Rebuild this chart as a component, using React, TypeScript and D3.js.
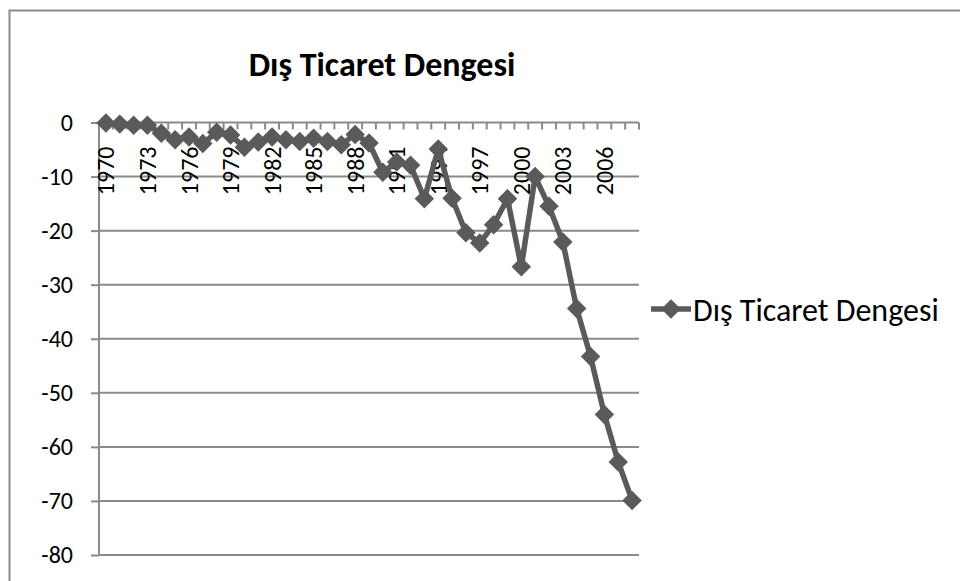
import { useEffect, useRef } from 'react';
import * as d3 from 'd3';

// Dış ticaret dengesi (milyar $), 1970-2008
const years: number[] = d3.range(1970, 2009);
const balance: number[] = [
  -0.1, -0.3, -0.5, -0.5, -2.0, -3.2, -2.7, -3.9, -1.8, -2.3,
  -4.6, -3.6, -2.7, -3.2, -3.5, -2.9, -3.5, -4.1, -2.2, -3.8,
  -9.2, -7.3, -7.9, -14.1, -4.9, -14.0, -20.4, -22.3, -18.9, -14.1,
  -26.7, -10.0, -15.5, -22.1, -34.4, -43.3, -54.0, -62.8, -69.9,
];
const yTicks: number[] = [0, -10, -20, -30, -40, -50, -60, -70, -80];
const title = 'Dış Ticaret Dengesi';
const seriesName = 'Dış Ticaret Dengesi';

const W = 960;
const H = 581;
const FONT = "Carlito, Calibri, Lato, 'Open Sans', sans-serif";
const GRID = '#8a8a8a';
const SERIES = '#5a5a5a';

export default function App() {
  const svgRef = useRef<SVGSVGElement | null>(null);

  useEffect(() => {
    if (!svgRef.current) return;
    const svg = d3.select(svgRef.current);
    svg.selectAll('*').remove();

    const plot = { left: 99, right: 639, top: 122.5, bottom: 555 };

    const x = d3.scaleBand<number>()
      .domain(years)
      .range([plot.left, plot.right]);
    const y = d3.scaleLinear().domain([-80, 0]).range([plot.bottom, plot.top]);

    // outer frame (right & bottom edges fall outside the view)
    svg.append('rect')
      .attr('x', 9.5).attr('y', 10.5)
      .attr('width', 1200).attr('height', 1200)
      .attr('fill', 'none').attr('stroke', GRID).attr('stroke-width', 2);

    svg.append('text')
      .attr('x', 382).attr('y', 76)
      .attr('text-anchor', 'middle')
      .attr('font-family', FONT).attr('font-weight', 'bold').attr('font-size', 34)
      .text(title);

    // y axis ticks + labels (plain hyphen like Excel)
    const yAxis = svg.append('g').attr('transform', `translate(${plot.left},0)`)
      .call(d3.axisLeft(y).tickValues(yTicks).tickSize(8).tickPadding(18).tickFormat((d) => String(d)));
    yAxis.select('.domain').remove();
    yAxis.selectAll('line').attr('stroke', GRID).attr('stroke-width', 2);
    yAxis.selectAll('text')
      .attr('fill', '#000').attr('font-family', FONT).attr('font-size', 24);

    // grid lines
    svg.append('g')
      .selectAll('line')
      .data(yTicks)
      .join('line')
      .attr('x1', plot.left).attr('x2', plot.right)
      .attr('y1', (d) => y(d)).attr('y2', (d) => y(d))
      .attr('stroke', GRID).attr('stroke-width', 2);

    svg.append('line')
      .attr('x1', plot.left).attr('x2', plot.left)
      .attr('y1', plot.top).attr('y2', plot.bottom)
      .attr('stroke', GRID).attr('stroke-width', 2);

    // category axis at zero, ticks between categories
    const bounds = years.map((yr) => x(yr)!).concat([plot.right]);
    svg.append('g')
      .selectAll('line')
      .data(bounds)
      .join('line')
      .attr('x1', (d) => d).attr('x2', (d) => d)
      .attr('y1', y(0)).attr('y2', y(0) + 7)
      .attr('stroke', GRID).attr('stroke-width', 2);

    svg.append('g')
      .selectAll('text')
      .data(years.filter((_, i) => i % 3 === 0))
      .join('text')
      .attr('transform', (d) => `translate(${x(d)! + x.bandwidth() / 2},${y(0) + 24}) rotate(-90)`)
      .attr('text-anchor', 'end')
      .attr('dominant-baseline', 'central')
      .attr('font-family', FONT).attr('font-size', 24)
      .text((d) => d);

    // series
    const cx = (yr: number) => x(yr)! + x.bandwidth() / 2;
    const line = d3.line<number>()
      .x((_, i) => cx(years[i]))
      .y((d) => y(d));
    svg.append('path')
      .datum(balance)
      .attr('fill', 'none')
      .attr('stroke', SERIES)
      .attr('stroke-width', 5.5)
      .attr('stroke-linejoin', 'round')
      .attr('d', line);

    const marker = d3.symbol().type(d3.symbolSquare).size(190)() as string;
    svg.append('g')
      .selectAll('path')
      .data(balance)
      .join('path')
      .attr('transform', (d, i) => `translate(${cx(years[i])},${y(d)}) rotate(45)`)
      .attr('d', marker)
      .attr('fill', SERIES);

    // legend
    const lg = svg.append('g').attr('transform', 'translate(651,309)');
    lg.append('line').attr('x1', 0).attr('x2', 40).attr('y1', 0).attr('y2', 0)
      .attr('stroke', SERIES).attr('stroke-width', 5.5);
    lg.append('path')
      .attr('transform', 'translate(20,0) rotate(45)')
      .attr('d', marker)
      .attr('fill', SERIES);
    lg.append('text')
      .attr('x', 42).attr('y', 1)
      .attr('dominant-baseline', 'central')
      .attr('font-family', FONT).attr('font-size', 32)
      .text(seriesName);
  }, []);

  return (
    <svg
      ref={svgRef}
      width={W}
      height={H}
      style={{ position: 'absolute', left: 0, top: 0, background: '#fff', display: 'block' }}
    />
  );
}
